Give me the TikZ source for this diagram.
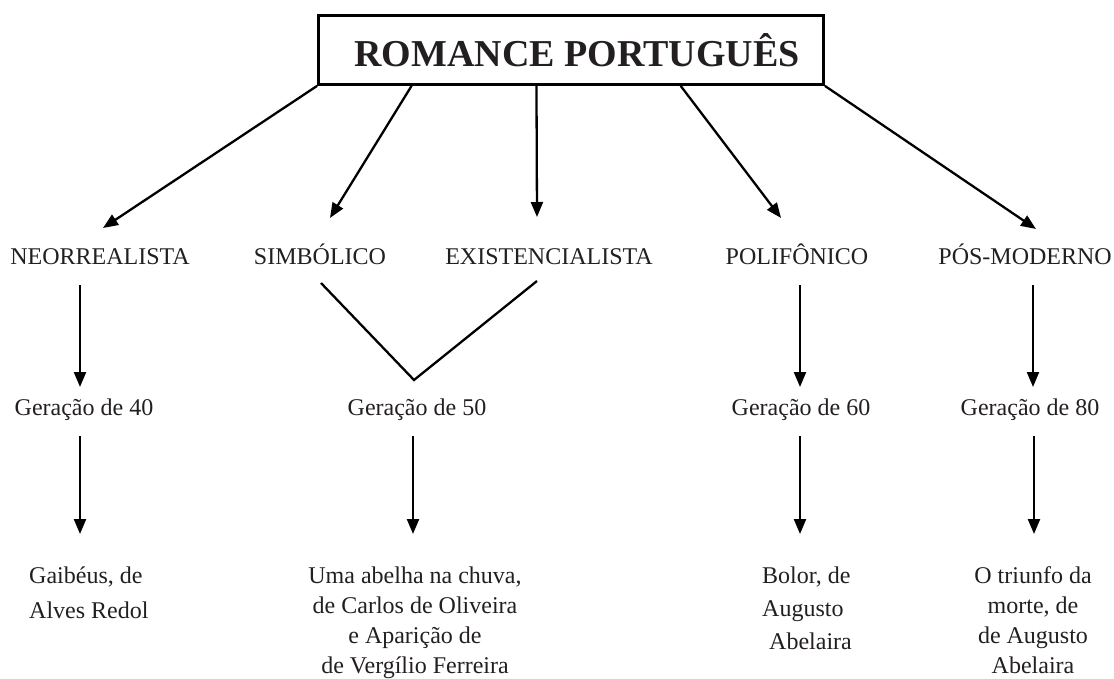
\documentclass[tikz,border=0pt]{standalone}
\usepackage{fontspec}
\setmainfont{Liberation Serif}
\usetikzlibrary{arrows.meta,calc}
\definecolor{ink}{HTML}{231F20}
\begin{document}
\begin{tikzpicture}[x=1pt,y=-1pt,
  lbl/.style={font=\fontsize{24}{30}\selectfont, inner sep=0pt, text=ink},
  arr/.style={draw=black, line width=2.3pt, -{Triangle[length=15pt,width=12pt]}},
  ln/.style={draw=black, line width=2.3pt},
  titlebox/.style={draw=black, line width=2.8pt, minimum width=505pt, minimum height=69pt,
    inner sep=0pt, text=ink, font=\fontsize{38}{40}\selectfont\bfseries}]
\useasboundingbox (0,0) rectangle (1114,679);

% title
\node[titlebox] (title) at (571,50) {\hspace*{12pt}ROMANCE PORTUGUÊS};

% second row labels
\node[lbl, anchor=base] (neo)   at (100,265) {NEORREALISTA};
\node[lbl, anchor=base] (simb)  at (320,265) {SIMBÓLICO};
\node[lbl, anchor=base] (exis)  at (549,265) {EXISTENCIALISTA};
\node[lbl, anchor=base] (poli)  at (797,265) {POLIFÔNICO};
\node[lbl, anchor=base east] (pos) at (1112,265) {PÓS-MODERNO};

% generations
\node[lbl, anchor=base] (g40) at (84,415) {Geração de 40};
\node[lbl, anchor=base] (g50) at (417,415) {Geração de 50};
\node[lbl, anchor=base] (g60) at (801,415) {Geração de 60};
\node[lbl, anchor=base] (g80) at (1030,415) {Geração de 80};

% works
\node[lbl, anchor=north west, align=left, font=\fontsize{24}{35}\selectfont] (w40) at (29,566.6) {Gaibéus, de\\Alves Redol};
\node[lbl, anchor=north, align=center] (w50) at (415,566.6) {Uma abelha na chuva,\\de Carlos de Oliveira\\e Aparição de\\de Vergílio Ferreira};
\node[lbl, anchor=north west, align=left, font=\fontsize{24}{33}\selectfont] (w60) at (762,566.6) {Bolor, de\\Augusto\\\hspace*{7pt}Abelaira};
\node[lbl, anchor=north, align=center] (w80) at (1033,566.6) {O triunfo da\\morte, de\\de Augusto\\Abelaira};

% anchor points on the title box
\coordinate (s1) at (title.south west);
\coordinate (s2) at ($(title.south west)!0.186!(title.south east)$);
\coordinate (s3) at ($(title.south west)!0.432!(title.south east)$);
\coordinate (s4) at ($(title.south west)!0.716!(title.south east)$);
\coordinate (s5) at (title.south east);
% arrow tips
\coordinate (t1) at (103,228);
\coordinate (t2) at (330,218);
\coordinate (t3) at (537,217);
\coordinate (t4) at (781,218);
\coordinate (t5) at (1036,229);

\draw[arr] (s1) -- (t1);
\draw[arr] (s2) -- (t2);
\draw[arr] (s3) -- (t3);
\draw[arr] (s4) -- (t4);
\draw[arr] (s5) -- (t5);

% V joining simbolico and existencialista
\coordinate (va) at (321,283);
\coordinate (vb) at (414,380);
\coordinate (vc) at (537,281);
\draw[ln, line join=miter] (va) -- (vb) -- (vc);

% vertical arrows
\coordinate (a1) at (80,285);   \coordinate (b1) at (80,387);
\coordinate (a2) at (800,285);  \coordinate (b2) at (800,387);
\coordinate (a3) at (1033,285); \coordinate (b3) at (1033,387);
\draw[arr] (a1) -- (b1);
\draw[arr] (a2) -- (b2);
\draw[arr] (a3) -- (b3);

\coordinate (c1) at (80,436);   \coordinate (d1) at (80,534);
\coordinate (c2) at (413,436);  \coordinate (d2) at (413,534);
\coordinate (c3) at (800,436);  \coordinate (d3) at (800,534);
\coordinate (c4) at (1034,436); \coordinate (d4) at (1034,534);
\draw[arr] (c1) -- (d1);
\draw[arr] (c2) -- (d2);
\draw[arr] (c3) -- (d3);
\draw[arr] (c4) -- (d4);
\end{tikzpicture}
\end{document}
